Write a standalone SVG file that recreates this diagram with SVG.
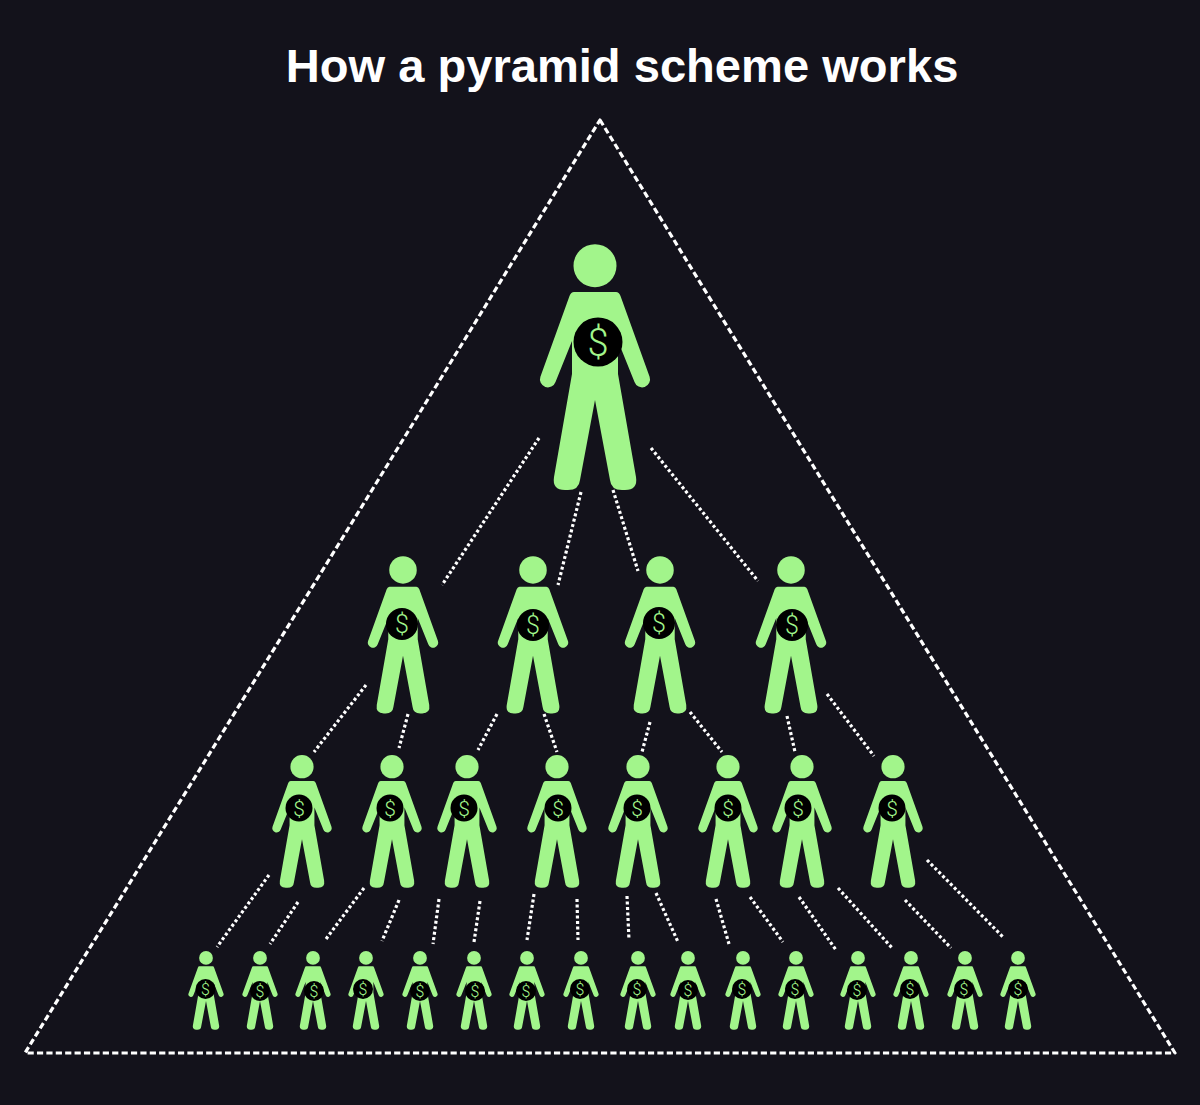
<svg xmlns="http://www.w3.org/2000/svg" width="1200" height="1105" viewBox="0 0 1200 1105">
<style>
.title{font-family:"Liberation Sans",Arial,sans-serif;font-weight:700;font-size:47.100px;fill:#fff;text-anchor:middle}
.d{font-family:"Roboto","Liberation Sans",sans-serif;font-weight:300;fill:#a2f58b;text-anchor:middle}
.d0{font-size:38px}.d1{font-size:25px}.d2{font-size:21px}.d3{font-size:16px}
.tri{fill:none;stroke:#fff;stroke-width:3.200;stroke-dasharray:6.200 3.200;stroke-linejoin:round}
.dot{fill:none;stroke:#fff;stroke-width:3.200;stroke-dasharray:3 2.500}
.p{fill:#a2f58b}
</style>
<defs>
<g id="person">
<circle class="p" cx="0" cy="21.7" r="21.5"/>
<path class="p" d="M-21 48H21Q24 48 25.500 52L54.600 132.700A8 8 0 0 1 39.500 138L23 97V130L41 233Q43 246 30 246H27Q16 246 15 236L0 156L-15 236Q-16 246-27 246H-30Q-43 246-41 233L-23 130V97L-39.500 138A8 8 0 0 1-54.600 132.700L-25.500 52Q-24 48-21 48Z"/>
</g>
</defs>
<rect width="1200" height="1105" fill="#13121b"/>
<text class="title" x="622" y="82">How a pyramid scheme works</text>
<path class="tri" d="M600 120L1175 1053H25Z"/>
<g id="connectors">
<path class="dot" d="M539 438L442 585M581 492L558 585M613 490L638 571M651 448L758 581"/>
<path class="dot" d="M366 685L314 752M408 714L399 748M497 714L478 750M544 714L557 752M650 722L642 752M690 712L722 752M787 716L795 752M827 694L874 756"/>
<path class="dot" d="M269 875L217 947M298 902L270 944M364 888L326 939M399 900L382 941M439 899L433 944M480 901L474 942M534 894L527 940M577 899L578 940M627 896L629 940M656 893L678 942M716 899L729 944M750 897L783 942M799 897L836 950M838 888L893 949M905 900L951 948M927 860L1004 938"/>
</g>
<g id="n0"><use href="#person" transform="translate(595 244)"/><circle cx="598" cy="342" r="24.500" fill="#000"/><text class="d d0" x="598" y="355.500">$</text></g>
<g id="n1"><use href="#person" transform="translate(403 556) scale(.64)"/><circle cx="402" cy="624" r="16" fill="#000"/><text class="d d1" x="402" y="633">$</text></g>
<g id="n2"><use href="#person" transform="translate(533 556) scale(.64)"/><circle cx="533" cy="625" r="16" fill="#000"/><text class="d d1" x="533" y="634">$</text></g>
<g id="n3"><use href="#person" transform="translate(660 556) scale(.64)"/><circle cx="659" cy="623" r="16" fill="#000"/><text class="d d1" x="659" y="632">$</text></g>
<g id="n4"><use href="#person" transform="translate(791 556) scale(.64)"/><circle cx="792" cy="625" r="16" fill="#000"/><text class="d d1" x="792" y="634">$</text></g>
<g id="n5"><use href="#person" transform="translate(302 755) scale(.54)"/><circle cx="299" cy="808" r="13.500" fill="#000"/><text class="d d2" x="299" y="815.500">$</text></g>
<g id="n6"><use href="#person" transform="translate(392 755) scale(.54)"/><circle cx="390" cy="808" r="13.500" fill="#000"/><text class="d d2" x="390" y="815.500">$</text></g>
<g id="n7"><use href="#person" transform="translate(467 755) scale(.54)"/><circle cx="464" cy="808" r="13.500" fill="#000"/><text class="d d2" x="464" y="815.500">$</text></g>
<g id="n8"><use href="#person" transform="translate(557 755) scale(.54)"/><circle cx="558" cy="808" r="13.500" fill="#000"/><text class="d d2" x="558" y="815.500">$</text></g>
<g id="n9"><use href="#person" transform="translate(638 755) scale(.54)"/><circle cx="637" cy="808" r="13.500" fill="#000"/><text class="d d2" x="637" y="815.500">$</text></g>
<g id="n10"><use href="#person" transform="translate(728 755) scale(.54)"/><circle cx="728" cy="808" r="13.500" fill="#000"/><text class="d d2" x="728" y="815.500">$</text></g>
<g id="n11"><use href="#person" transform="translate(802 755) scale(.54)"/><circle cx="798" cy="808" r="13.500" fill="#000"/><text class="d d2" x="798" y="815.500">$</text></g>
<g id="n12"><use href="#person" transform="translate(893 755) scale(.54)"/><circle cx="892" cy="808" r="13.500" fill="#000"/><text class="d d2" x="892" y="815.500">$</text></g>
<g id="n13"><use href="#person" transform="translate(206 951) scale(.32)"/><circle cx="205.500" cy="989" r="10" fill="#000"/><text class="d d3" x="205.500" y="995">$</text></g>
<g id="n14"><use href="#person" transform="translate(260 951) scale(.32)"/><circle cx="260" cy="991" r="10" fill="#000"/><text class="d d3" x="260" y="997">$</text></g>
<g id="n15"><use href="#person" transform="translate(313 951) scale(.32)"/><circle cx="314" cy="991" r="10" fill="#000"/><text class="d d3" x="314" y="997">$</text></g>
<g id="n16"><use href="#person" transform="translate(366 951) scale(.32)"/><circle cx="363" cy="989" r="10" fill="#000"/><text class="d d3" x="363" y="995">$</text></g>
<g id="n17"><use href="#person" transform="translate(420 951) scale(.32)"/><circle cx="420" cy="991" r="10" fill="#000"/><text class="d d3" x="420" y="997">$</text></g>
<g id="n18"><use href="#person" transform="translate(474 951) scale(.32)"/><circle cx="475" cy="991" r="10" fill="#000"/><text class="d d3" x="475" y="997">$</text></g>
<g id="n19"><use href="#person" transform="translate(527 951) scale(.32)"/><circle cx="526" cy="991" r="10" fill="#000"/><text class="d d3" x="526" y="997">$</text></g>
<g id="n20"><use href="#person" transform="translate(581 951) scale(.32)"/><circle cx="580" cy="989" r="10" fill="#000"/><text class="d d3" x="580" y="995">$</text></g>
<g id="n21"><use href="#person" transform="translate(638 951) scale(.32)"/><circle cx="637" cy="989" r="10" fill="#000"/><text class="d d3" x="637" y="995">$</text></g>
<g id="n22"><use href="#person" transform="translate(688 951) scale(.32)"/><circle cx="688" cy="990" r="10" fill="#000"/><text class="d d3" x="688" y="996">$</text></g>
<g id="n23"><use href="#person" transform="translate(743 951) scale(.32)"/><circle cx="742" cy="989" r="10" fill="#000"/><text class="d d3" x="742" y="995">$</text></g>
<g id="n24"><use href="#person" transform="translate(796 951) scale(.32)"/><circle cx="795" cy="989" r="10" fill="#000"/><text class="d d3" x="795" y="995">$</text></g>
<g id="n25"><use href="#person" transform="translate(858 951) scale(.32)"/><circle cx="857" cy="990" r="10" fill="#000"/><text class="d d3" x="857" y="996">$</text></g>
<g id="n26"><use href="#person" transform="translate(911 951) scale(.32)"/><circle cx="910" cy="989" r="10" fill="#000"/><text class="d d3" x="910" y="995">$</text></g>
<g id="n27"><use href="#person" transform="translate(965 951) scale(.32)"/><circle cx="964" cy="989" r="10" fill="#000"/><text class="d d3" x="964" y="995">$</text></g>
<g id="n28"><use href="#person" transform="translate(1018 951) scale(.32)"/><circle cx="1018" cy="989" r="10" fill="#000"/><text class="d d3" x="1018" y="995">$</text></g>
</svg>
